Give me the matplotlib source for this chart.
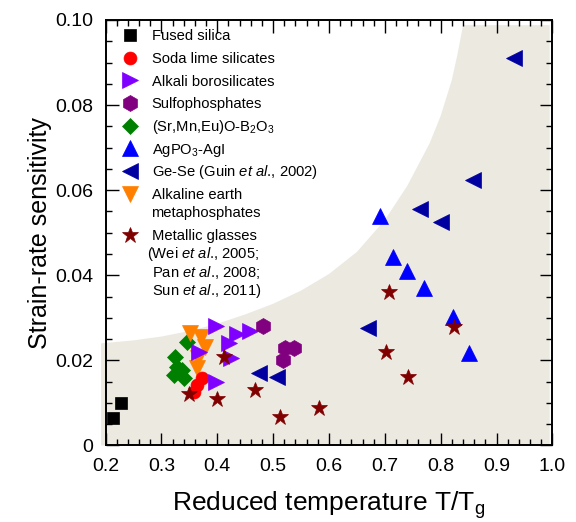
import matplotlib.pyplot as plt
from matplotlib.ticker import MultipleLocator

plt.rcParams['font.family'] = ['Liberation Sans', 'DejaVu Sans']
plt.rcParams['mathtext.fontset'] = 'custom'
plt.rcParams['mathtext.rm'] = 'Liberation Sans'
plt.rcParams['mathtext.it'] = 'Liberation Sans:italic'

# --- data (x = T/Tg, y = strain-rate sensitivity) ---
fused_x = [0.214, 0.228]
fused_y = [0.0065, 0.0099]

soda_x = [0.373, 0.364, 0.359]
soda_y = [0.0159, 0.0141, 0.0126]

alkali_x = [0.397, 0.436, 0.459, 0.421, 0.367, 0.424, 0.397]
alkali_y = [0.0281, 0.0262, 0.0269, 0.0242, 0.0220, 0.0205, 0.0150]

sulfo_x = [0.482, 0.521, 0.538, 0.518]
sulfo_y = [0.0280, 0.0229, 0.0229, 0.0202]

srmneu_x = [0.346, 0.325, 0.328, 0.322, 0.340, 0.337]
srmneu_y = [0.0244, 0.0209, 0.0185, 0.0166, 0.0158, 0.0177]

agpo3_x = [0.692, 0.714, 0.739, 0.770, 0.822, 0.851]
agpo3_y = [0.0539, 0.0442, 0.0411, 0.0371, 0.0303, 0.0217]

gese_x = [0.474, 0.507, 0.670, 0.762, 0.801, 0.858, 0.931]
gese_y = [0.0171, 0.0160, 0.0277, 0.0555, 0.0526, 0.0624, 0.0910]

alkearth_x = [0.352, 0.370, 0.378, 0.365, 0.364]
alkearth_y = [0.0265, 0.0255, 0.0232, 0.0205, 0.0183]

metallic_x = [0.412, 0.349, 0.400, 0.468, 0.513, 0.582, 0.707, 0.702, 0.741, 0.824]
metallic_y = [0.0209, 0.0122, 0.0109, 0.0130, 0.0067, 0.0087, 0.0360, 0.0220, 0.0160, 0.0279]

# outline of the shaded background region (upper boundary, left to right)
shade_x = [0.192, 0.25, 0.30, 0.35, 0.40, 0.45, 0.50, 0.55, 0.60, 0.65,
           0.70, 0.74, 0.78, 0.80, 0.82, 0.83, 0.840, 0.995]
shade_y = [0.0240, 0.0247, 0.0256, 0.0269, 0.0286, 0.0308, 0.0333, 0.0364, 0.0403, 0.0455,
           0.0530, 0.0610, 0.0710, 0.0775, 0.0860, 0.0920, 0.0988, 0.0988]

yticks = [0, 0.02, 0.04, 0.06, 0.08, 0.10]
ytick_labels = ['0', '0.02', '0.04', '0.06', '0.08', '0.10']
xticks = [0.2, 0.3, 0.4, 0.5, 0.6, 0.7, 0.8, 0.9, 1.0]
xtick_labels = ['0.2', '0.3', '0.4', '0.5', '0.6', '0.7', '0.8', '0.9', '1.0']

ital = r'$\mathit{et\ al}$.'
series = [
    (['Fused silica'], fused_x, fused_y, 's', 'black', 8.8),
    (['Soda lime silicates'], soda_x, soda_y, 'o', '#ff0000', 9.3),
    (['Alkali borosilicates'], alkali_x, alkali_y, '>', '#8000ff', 11.5),
    (['Sulfophosphates'], sulfo_x, sulfo_y, 'h', '#800080', 11.5),
    ([r'(Sr,Mn,Eu)O-B$_2$O$_3$'], srmneu_x, srmneu_y, 'D', '#008000', 8),
    ([r'AgPO$_3$-AgI'], agpo3_x, agpo3_y, '^', '#0000ff', 11.5),
    (['Ge-Se (Guin ' + ital + ', 2002)'], gese_x, gese_y, '<', '#0000a0', 11.5),
    (['Alkaline earth', 'metaphosphates'], alkearth_x, alkearth_y, 'v', '#ff8000', 11.5),
    (['Metallic glasses', '(Wei ' + ital + ', 2005;', 'Pan ' + ital + ', 2008;',
      'Sun ' + ital + ', 2011)'], metallic_x, metallic_y, '*', '#800000', 12),
]
draw_order = [0, 4, 7, 1, 2, 3, 5, 6, 8]

fig = plt.figure(figsize=(5.76, 5.22), dpi=100)
ax = fig.add_axes([0.1832, 0.1466, 0.7760, 0.8151])

ax.fill(shade_x + [shade_x[-1], shade_x[0]], shade_y + [0, 0],
        color='#ece9e0', lw=0, zorder=0, clip_on=False)

for i in draw_order:
    lab, x, y, m, c, ms = series[i]
    ax.plot(x, y, ls='none', marker=m, ms=ms, color=c, mec=c, mew=0.5, zorder=3)

# hand-made legend (markers aligned with first line of each label)
def px2frac(py):
    return 1 - (py - 20) / 425.5

yc = 35.0
for lab, x, y, m, c, ms in series:
    ax.plot([0.0548], [px2frac(yc)], transform=ax.transAxes, ls='none',
            marker=m, ms=ms, color=c, mec=c, mew=0.5, clip_on=False, zorder=4)
    for k, line in enumerate(lab):
        xoff = -0.009 if line.startswith('(W') else 0
        ax.text(0.1029 + xoff, px2frac(yc + 5.3), line, transform=ax.transAxes,
                fontsize=10.6, va='baseline', ha='left', zorder=4)
        if k < len(lab) - 1:
            yc += 18.3
    yc += 22.7

ax.set_xlim(0.2, 1.0)
ax.set_ylim(0, 0.1)
ax.set_xticks(xticks)
ax.set_xticklabels(xtick_labels)
ax.set_yticks(yticks)
ax.set_yticklabels(ytick_labels)
ax.xaxis.set_minor_locator(MultipleLocator(0.02))
ax.yaxis.set_minor_locator(MultipleLocator(0.005))
ax.tick_params(which='both', direction='in', top=True, right=True, width=1, labelsize=14)
ax.tick_params(which='major', length=9, pad=9)
ax.tick_params(which='minor', length=4.5)
for s in ax.spines.values():
    s.set_linewidth(1.4)
    s.set_zorder(5)

ax.set_xlabel(r'Reduced temperature T/T$_\mathrm{g}$', fontsize=19, labelpad=10)
ax.set_ylabel('Strain-rate sensitivity', fontsize=18, labelpad=2)

fig.savefig('out.png', dpi=100)
